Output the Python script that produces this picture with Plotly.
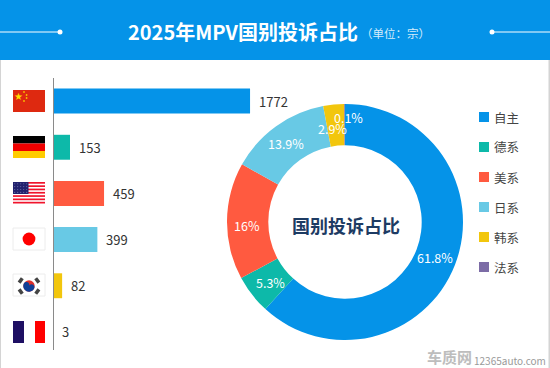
import math
import plotly.graph_objects as go

categories = ["自主", "德系", "美系", "日系", "韩系", "法系"]
values = [1772, 153, 459, 399, 82, 3]
pct_labels = ["61.8%", "5.3%", "16%", "13.9%", "2.9%", "0.1%"]
colors = ["#0593E8", "#0DB9A9", "#FF5A40", "#68C9E5", "#F2C60D", "#7C6CA6"]

W, H = 550, 368
FONT = "Noto Sans CJK SC"
fx = lambda x: x / W
fy = lambda y: 1 - y / H

fig = go.Figure()

# Bars
fig.add_trace(go.Bar(
    x=values, y=categories, orientation="h", marker=dict(color=colors, line_width=0),
    width=0.54, hoverinfo="skip", showlegend=False,
))

# Donut
CX, CY, R = 345, 222, 118
fig.add_trace(go.Pie(
    values=values, labels=categories, hole=0.65, sort=False, direction="clockwise", rotation=0,
    marker=dict(colors=colors, line_width=0), textinfo="none", showlegend=False, hoverinfo="skip",
    domain=dict(x=[fx(CX - R), fx(CX + R)], y=[fy(CY + R), fy(CY - R)]),
))

shapes, ann = [], []

def rect(x0, y0, x1, y1, c, line=None):
    shapes.append(dict(type="rect", xref="paper", yref="paper", x0=fx(x0), y0=fy(y0), x1=fx(x1), y1=fy(y1),
                       fillcolor=c, line=dict(width=1 if line else 0, color=line or c), layer="above"))

def circ(cx, cy, r, c):
    shapes.append(dict(type="circle", xref="paper", yref="paper", x0=fx(cx - r), y0=fy(cy - r),
                       x1=fx(cx + r), y1=fy(cy + r), fillcolor=c, line_width=0, layer="above"))

def line(x0, y0, x1, y1, c, w=1):
    shapes.append(dict(type="line", xref="paper", yref="paper", x0=fx(x0), y0=fy(y0), x1=fx(x1), y1=fy(y1),
                       line=dict(color=c, width=w), layer="above"))

def text(x, y, s, size, color, anchor="center", bold=False, family=FONT):
    ann.append(dict(xref="paper", yref="paper", x=fx(x), y=fy(y), text=f"<b>{s}</b>" if bold else s,
                    showarrow=False, xanchor=anchor, yanchor="middle",
                    font=dict(size=size, color=color, family=family)))

# Page frame and header
rect(0, 0, 1, H, "#D4D4D4")
rect(W - 1.5, 0, W, H, "#D4D4D4")
rect(0, 0, W, 60, "#0593E8")
line(0, 32, 60, 32, "#FFFFFF", 1)
line(492, 32, W, 32, "#FFFFFF", 1)
circ(60, 32, 2.5, "#FFFFFF")
circ(492, 32, 2.5, "#FFFFFF")
text(243, 32, "2025年MPV国别投诉占比", 20, "#FFFFFF", bold=True)
text(395, 33, "（单位：宗）", 11.5, "#D5ECFA")

# Axis line
line(53.5, 78, 53.5, 350, "#8A8A8A", 1)

# Bar value labels
for n, v in zip(categories, values):
    ann.append(dict(xref="x", yref="y", x=v, y=n, text=str(v), showarrow=False, xanchor="left", yanchor="middle",
                    xshift=7, font=dict(size=13, color="#333333", family=FONT)))

# Flags
FX0, FX1 = 13, 45
flag_top = [90, 136, 182, 228, 274, 321]
FH = 22

y = flag_top[0]
rect(FX0, y, FX1, y + FH, "#DE2910")
text(18.2, y + 6, "★", 10, "#FFDE00", family="DejaVu Sans")
for sx, dy in [(24, 2), (26.6, 5), (26.6, 8), (24, 11)]:
    circ(sx, y + dy, 0.9, "#F8C000")

y = flag_top[1]
rect(FX0, y, FX1, y + 7.5, "#000000")
rect(FX0, y + 7.5, FX1, y + 15, "#F00000")
rect(FX0, y + 15, FX1, y + FH, "#FFCC00")

y = flag_top[2]
rect(FX0, y, FX1, y + FH, "#FFFFFF")
for i in range(0, 7):
    rect(FX0, y + i * 3.3, FX1, y + i * 3.3 + 1.7, "#F0142C")
rect(FX0, y, FX0 + 15.5, y + 12, "#22226E")
for i in range(5):
    for j in range(4):
        circ(FX0 + 1.7 + i * 3, y + 1.7 + j * 2.9, 0.55, "#6E70A8")

y = flag_top[3]
rect(FX0, y, FX1, y + FH, "#FFFFFF", "#ECECEC")
circ(29, y + 11, 6.4, "#FF0000")

y = flag_top[4]
rect(FX0, y, FX1, y + FH, "#FFFFFF", "#ECECEC")
cx, cy = 29, y + 12
r = 5.7
t = math.radians(25)
circ(cx, cy, r, "#DB2F2C")
pts = []
for k in range(25):                    # outer lower arc
    a = t + math.pi - math.pi * k / 24
    pts.append((cx + r * math.cos(a), cy + r * math.sin(a)))
c2 = (cx + r / 2 * math.cos(t), cy + r / 2 * math.sin(t))
for k in range(13):                    # right lobe bulges upward
    a = t + math.pi * k / 12 * -1
    pts.append((c2[0] + r / 2 * math.cos(a), c2[1] + r / 2 * math.sin(a)))
c3 = (cx - r / 2 * math.cos(t), cy - r / 2 * math.sin(t))
for k in range(13):                    # left lobe bulges downward
    a = t - math.pi * k / 12
    pts.append((c3[0] + r / 2 * math.cos(a), c3[1] + r / 2 * math.sin(a)))
path = "M " + " L ".join(f"{fx(a)} {fy(b)}" for a, b in pts) + " Z"
shapes.append(dict(type="path", xref="paper", yref="paper", path=path, fillcolor="#0F3E96", line_width=0, layer="above"))
for sx, sy in [(-1, -1), (1, -1), (-1, 1), (1, 1)]:
    mx, my = cx + sx * 8.3, cy + sy * 5.6
    line(mx - sy * 1.6, my + sx * 2.2, mx + sy * 1.6, my - sx * 2.2, "#444444", 3.5)

y = flag_top[5]
rect(FX0, y, FX0 + 11, y + FH, "#1E0F63")
rect(FX0 + 11, y, FX0 + 22, y + FH, "#FFFFFF")
rect(FX0 + 22, y, FX1, y + FH, "#FF0000")

# Donut labels, placed from the values
nudge = {1: (2, 1), 2: (-1, 4), 3: (-2, 0), 4: (-3, 3), 5: (4, -8)}
total = sum(values)
acc = 0
rmid = 97
for i, (v, lab) in enumerate(zip(values, pct_labels)):
    ang = 2 * math.pi * (acc + v / 2) / total
    acc += v
    dx, dy = nudge.get(i, (0, 0))
    text(CX + rmid * math.sin(ang) + dx, CY - rmid * math.cos(ang) + dy, lab, 12.5, "#FFFFFF")

text(346, 225, "国别投诉占比", 18, "#1D3B63", bold=True)

# Legend
for i, (n, c) in enumerate(zip(categories, colors)):
    ly = 117 + i * 30
    rect(479, ly - 5, 489, ly + 5, c)
    text(491.5, ly, n, 12.5, "#444444", anchor="left")

# Watermark
text(449, 356.5, "车质网", 15, "#BDBDBD", bold=True)
text(510, 360, "12365auto.com", 10, "#9A9A9A")

fig.update_layout(
    width=W, height=H, margin=dict(l=0, r=0, t=0, b=0), paper_bgcolor="#FFFFFF", plot_bgcolor="rgba(0,0,0,0)",
    autosize=False, shapes=shapes, annotations=ann, showlegend=False,
    xaxis=dict(domain=[fx(53), fx(330)], range=[0, 277 / 0.1112], visible=False, fixedrange=True),
    yaxis=dict(domain=[fy(355), fy(78)], autorange="reversed", visible=False, categoryorder="array",
               categoryarray=categories, fixedrange=True),
)

fig.write_html("out.html", config=dict(displayModeBar=False),
               post_script="document.body.style.margin='0';document.body.style.overflow='hidden';")
